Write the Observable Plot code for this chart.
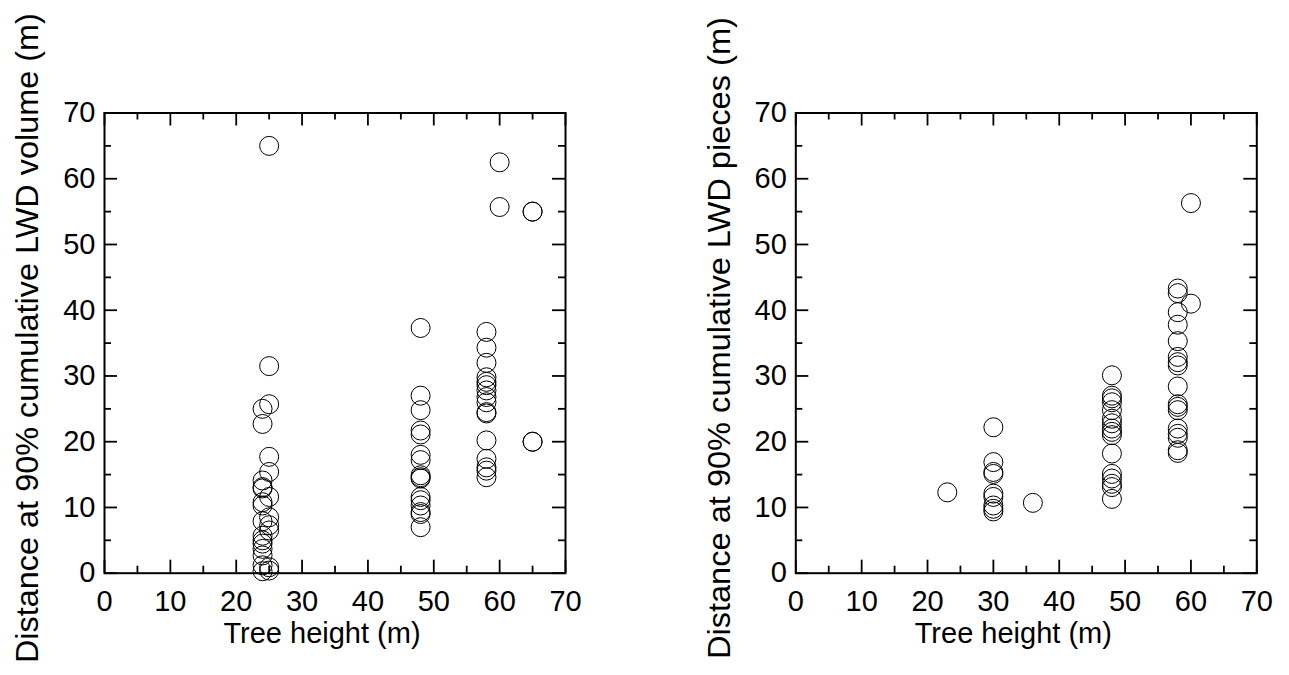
<!DOCTYPE html>
<html>
<head>
<meta charset="utf-8">
<script src="https://cdn.jsdelivr.net/npm/d3@7"></script>
<script src="https://cdn.jsdelivr.net/npm/@observablehq/plot@0.6"></script>
<style>
  html, body { margin: 0; padding: 0; background: #fff; }
  #wrap { display: flex; width: 1289px; height: 675px; }
  svg { display: block; }
</style>
</head>
<body>
<div id="wrap"></div>
<script>
// ---- Data ----
const volHeight = [
  25,25,25,25,25,25,25,25,25,25,25,
  24,24,24,24,24,24,24,24,24,24,24,24,24,24,24,
  48,48,48,48,48,48,48,48,48,48,48,48,48,48,48,48,
  58,58,58,58,58,58,58,58,58,58,58,58,58,58,58,58,
  60,60,
  65,65,65,65
];
const volDist = [
  65.0,31.5,25.7,17.7,15.4,11.6,8.5,7.3,6.5,0.9,0.4,
  25.0,22.7,14.1,13.1,12.9,10.8,10.3,7.9,5.7,5.0,4.5,3.7,2.7,1.2,0.3,
  37.3,27.0,24.8,21.7,21.1,18.0,17.2,14.9,14.6,14.4,11.6,11.1,10.3,9.3,9.0,7.0,
  36.7,34.3,32.0,29.8,29.1,28.6,27.8,26.8,26.0,24.5,24.3,20.2,17.4,16.1,15.6,14.6,
  62.5,55.7,
  55.0,55.0,20.0,20.0
];
const pcsHeight = [
  23,
  30,30,30,30,30,30,30,30,30,
  36,
  48,48,48,48,48,48,48,48,48,48,48,48,48,48,48,48,
  58,58,58,58,58,58,58,58,58,58,58,58,58,58,58,58,58,
  60,60
];
const pcsDist = [
  12.3,
  22.2,16.9,15.4,15.1,12.1,11.6,10.3,9.8,9.4,
  10.7,
  30.1,27.0,26.6,26.0,24.8,23.5,22.8,22.0,21.5,21.0,18.2,15.1,14.4,13.6,13.1,11.3,
  43.3,42.6,39.7,37.8,35.3,32.9,32.1,31.6,28.4,25.7,25.3,24.8,22.0,21.2,20.6,18.7,18.3,
  56.3,41.0
];
const majorTicks = [0, 10, 20, 30, 40, 50, 60, 70];
const minorTicks = [5, 15, 25, 35, 45, 55, 65];
const xLabel = "Tree height (m)";
const yLabelVol = "Distance at 90% cumulative LWD volume (m)";
const yLabelPcs = "Distance at 90% cumulative LWD pieces (m)";

// ---- Chart ----
const FONT = "'Liberation Sans', Arial, Helvetica, sans-serif";
const plotH = 460.2;

function panel(hs, ds, yLabel, yLabelLen, width, marginLeft, marginRight) {
  const data = hs.map((h, i) => ({h, d: ds[i]}));
  const marginTop = 112.5, marginBottom = 675 - 112.5 - plotH;
  const plotW = width - marginLeft - marginRight;
  const tickMarks = (ticks, len) => [
    Plot.tickX(ticks, {x: d => d, insetTop: plotH - len, stroke: "#000", strokeWidth: 1.8}),
    Plot.tickX(ticks, {x: d => d, insetBottom: plotH - len, stroke: "#000", strokeWidth: 1.8}),
    Plot.tickY(ticks, {y: d => d, insetRight: plotW - len, stroke: "#000", strokeWidth: 1.8}),
    Plot.tickY(ticks, {y: d => d, insetLeft: plotW - len, stroke: "#000", strokeWidth: 1.8})
  ];
  const svg = Plot.plot({
    width, height: 675,
    marginLeft, marginRight, marginTop, marginBottom,
    style: {fontFamily: FONT, color: "#000", background: "#fff", overflow: "visible"},
    x: {domain: [0, 70]},
    y: {domain: [0, 70]},
    marks: [
      ...tickMarks(majorTicks, 13),
      ...tickMarks(minorTicks, 7),
      Plot.frame({stroke: "#000", strokeWidth: 2}),
      Plot.axisX(majorTicks, {tickSize: 0, tickPadding: 17, fontSize: 29, tickFormat: d => String(d), label: null}),
      Plot.axisY(majorTicks, {tickSize: 0, tickPadding: 9, fontSize: 29, tickFormat: d => String(d), label: null}),
      Plot.text([xLabel], {text: d => d, frameAnchor: "bottom", lineAnchor: "top", dy: 49, dx: -13, fontSize: 29, fill: "#000"}),
      Plot.text([yLabel], {text: d => d, frameAnchor: "left", textAnchor: "middle", lineAnchor: "middle", rotate: -90, dx: -76, dy: -5, fontSize: 31, fill: "#000"}),
      Plot.dot(data, {x: "h", y: "d", r: 9.5, stroke: "#000", strokeWidth: 1, fill: "none"})
    ]
  });
  d3.select(svg).selectAll("text")
    .filter(function () { return this.textContent === yLabel; })
    .attr("textLength", yLabelLen)
    .attr("lengthAdjust", "spacingAndGlyphs");
  return svg;
}

const wrap = document.getElementById("wrap");
wrap.appendChild(panel(volHeight, volDist, yLabelVol, 650, 644, 104, 79));
wrap.appendChild(panel(pcsHeight, pcsDist, yLabelPcs, 642, 645, 151.3, 32.7));
</script>
</body>
</html>
